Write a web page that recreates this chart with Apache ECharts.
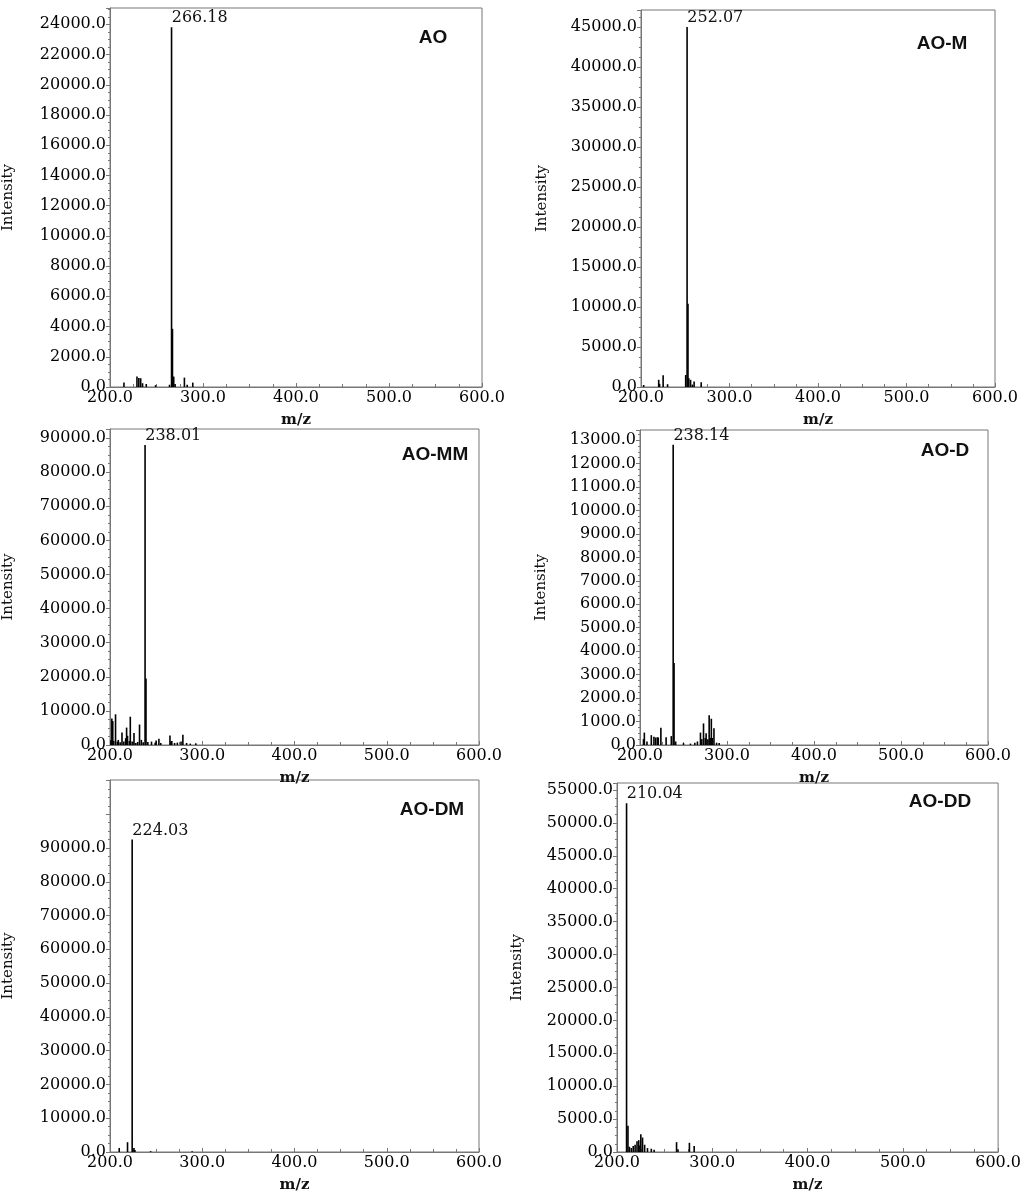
<!DOCTYPE html>
<html><head><meta charset="utf-8">
<script src="https://cdn.jsdelivr.net/npm/echarts@6/dist/echarts.min.js"></script>
<style>html,body{margin:0;padding:0;background:#fff}#c{width:1024px;height:1196px}</style>
</head><body><div id="c"></div>
<script>
const titles = ['AO','AO-M','AO-MM','AO-D','AO-DM','AO-DD'];
const peakLabels = ['266.18','252.07','238.01','238.14','224.03','210.04'];
const xTicks = [200, 300, 400, 500, 600];
const yIntervals = [2000, 5000, 10000, 1000, 10000, 5000];
const yMaxLabel = [24000, 45000, 90000, 13000, 90000, 55000];

const mzAO  = [215, 229, 231, 233, 235, 239, 249, 264, 266.18, 267.18, 268.5, 270, 280, 283, 289];
const intAO = [290, 690, 600, 580, 250, 200, 120, 150, 23800, 3850, 690, 200, 620, 150, 290];
const mzAOM  = [203, 220, 221, 225, 230, 250.5, 252.07, 253.07, 254, 256, 258, 260, 268];
const intAOM = [250, 900, 400, 1460, 350, 1500, 45000, 10400, 1100, 900, 300, 700, 600];
const mzAOMM  = [201, 202, 203, 204, 206, 208, 209, 211, 213, 215, 217, 218, 219, 221, 222, 224, 226, 228, 230, 232, 234, 236, 238.01, 239.01, 241, 245, 249, 250, 253, 255, 265, 266, 267, 270, 273, 277, 279, 283, 287, 293];
const intAOMM = [1500, 7800, 7000, 1200, 9000, 1000, 1500, 800, 3700, 1000, 2000, 5100, 2700, 1200, 8300, 1000, 3500, 600, 900, 6000, 1500, 800, 88000, 19500, 900, 1000, 700, 1300, 1800, 600, 2800, 1000, 1200, 600, 700, 1000, 3000, 600, 400, 500];
const mzAOD  = [204, 205, 208, 213, 216, 218, 220, 221, 224, 230, 236, 238.14, 239.14, 241, 250, 258, 263, 266, 269.5, 271, 273, 275, 276, 278, 279.5, 281, 282, 283, 285, 288, 291];
const intAOD = [250, 530, 150, 420, 350, 320, 330, 320, 740, 330, 380, 12800, 3500, 150, 80, 60, 100, 150, 530, 250, 920, 300, 500, 250, 1270, 300, 1120, 300, 710, 100, 80];
const mzAODM  = [210, 219, 224.03, 226, 227, 244, 289];
const intAODM = [1200, 2900, 92500, 1200, 600, 250, 250];
const mzAODD  = [210.04, 211.5, 213, 215, 217, 219, 221, 222.8, 224, 225, 226.8, 229, 232, 236, 239, 262.5, 264, 276, 281];
const intAODD = [53000, 4000, 800, 600, 900, 1100, 1650, 1800, 1000, 2700, 2200, 1100, 600, 500, 350, 1500, 400, 1400, 900];

const mzs = [mzAO, mzAOM, mzAOMM, mzAOD, mzAODM, mzAODD];
const ints = [intAO, intAOM, intAOMM, intAOD, intAODM, intAODD];

const boxes = [
  [109, 482, 8, 387, 25080],
  [641, 995, 10, 387, 47140],
  [109, 479, 429, 745, 92660],
  [640, 988, 430, 745, 13430],
  [109, 479, 780, 1152, 110130],
  [617, 1000, 783, 1152, 56060]
];
const titlePos = [[428,23],[937,29],[430,440],[940,436],[427,795],[935,787]];
const nameGaps = [94, 91, 94, 91, 94, 92];
const serif = 'DejaVu Serif';
const grey = '#777';

const grid = [], xAxis = [], yAxis = [], series = [], title = [];
boxes.forEach((b, i) => {
  grid.push({left: b[0], width: b[1]-b[0], top: b[2], height: b[3]-b[2], show: true, borderColor: grey, borderWidth: 1, containLabel: false});
  xAxis.push({type: 'value', gridIndex: i, min: 200, max: 600, interval: 100,
    name: 'm/z', nameLocation: 'middle', nameGap: 26,
    nameTextStyle: {fontFamily: serif, fontSize: 15, fontWeight: 'bold', color: '#111'},
    axisLine: {lineStyle: {color: grey}},
    axisTick: {inside: true, length: 4, lineStyle: {color: grey}},
    minorTick: {show: true, splitNumber: 4, length: 3, lineStyle: {color: grey}},
    axisLabel: {fontFamily: serif, fontSize: 16, color: '#000', margin: 3, formatter: v => v.toFixed(1)},
    splitLine: {show: false}});
  const iv = yIntervals[i], mx = yMaxLabel[i];
  yAxis.push({type: 'value', gridIndex: i, min: 0, max: b[4], interval: iv,
    name: 'Intensity', nameLocation: 'middle', nameGap: nameGaps[i], nameRotate: 90,
    nameTextStyle: {fontFamily: serif, fontSize: 15, color: '#111'},
    axisLine: {show: true, lineStyle: {color: grey}},
    axisTick: {show: true, length: 4, lineStyle: {color: grey}},
    minorTick: {show: true, splitNumber: 4, length: 2, lineStyle: {color: grey}},
    axisLabel: {fontFamily: serif, fontSize: 16, color: '#000', margin: 4, showMaxLabel: true,
      formatter: v => (v % iv === 0 && v <= mx) ? v.toFixed(1) : ''},
    splitLine: {show: false}});
  const peakIdx = ints[i].indexOf(Math.max(...ints[i]));
  const data = mzs[i].map((m, k) => {
    const d = {value: [m, ints[i][k]]};
    if (k === peakIdx) d.label = {show: true, position: [1, -17], formatter: peakLabels[i],
      fontFamily: serif, fontSize: 16, color: '#111'};
    return d;
  });
  series.push({type: 'bar', xAxisIndex: i, yAxisIndex: i, barWidth: 1.6, data,
    itemStyle: {color: '#000'}, animation: false, silent: true});
  title.push({text: titles[i], left: titlePos[i][0], top: titlePos[i][1], textAlign: 'center',
    textStyle: {fontFamily: 'Liberation Sans', fontWeight: 'bold', fontSize: 19, color: '#111'}});
});

const chart = echarts.init(document.getElementById('c'), null, {renderer: 'canvas'});
chart.setOption({animation: false, backgroundColor: '#fff', title, grid, xAxis, yAxis, series});
</script></body></html>
